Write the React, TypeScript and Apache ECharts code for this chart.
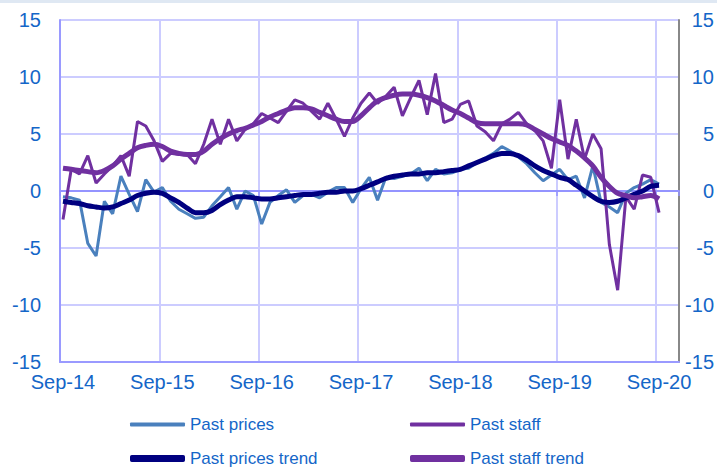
import React, { useEffect, useRef } from "react";
import * as echarts from "echarts";

// Monthly observations, Sep-14 (index 0) to Sep-20 (index 72)
const pastPrices = [
  -0.5, -0.6, -0.8, -4.6, -5.7, -0.9, -2.0, 1.3, -0.3, -1.8, 1.0, -0.1,
  0.3, -0.9, -1.6, -2.0, -2.4, -2.3, -1.3, -0.5, 0.3, -1.6, 0.0, -0.4,
  -2.9, -1.0, -0.4, 0.1, -1.0, -0.4, -0.3, -0.6, -0.1, 0.3, 0.3, -1.0,
  0.2, 1.2, -0.8, 1.2, 1.1, 1.3, 1.5, 2.0, 0.9, 1.9, 1.5, 1.6,
  1.9, 2.0, 2.5, 2.9, 3.3, 3.9, 3.5, 3.0, 2.4, 1.6, 0.9, 1.4,
  1.9, 1.0, 1.3, -0.6, 2.2, -1.0, -1.4, -1.9, -0.2, 0.3, 0.6, 1.0,
  0.6,
];
const pastStaff = [
  -2.5, 1.9, 1.5, 3.1, 0.7, 1.5, 2.2, 3.1, 1.3, 6.1, 5.7, 4.4,
  2.6, 3.3, 3.2, 3.2, 2.4, 4.1, 6.3, 4.1, 6.3, 4.4, 5.4, 5.9,
  6.8, 6.4, 6.0, 7.0, 8.0, 7.7, 7.0, 6.3, 7.7, 6.3, 4.8, 6.4,
  7.7, 8.6, 7.7, 8.3, 9.1, 6.6, 8.2, 9.7, 6.7, 10.3, 6.0, 6.3,
  7.6, 7.9, 5.7, 5.2, 4.4, 5.9, 6.3, 6.9, 5.9, 5.3, 4.4, 2.0,
  8.0, 2.8, 6.3, 2.8, 5.0, 3.7, -4.7, -8.7, -0.5, -1.6, 1.4, 1.2,
  -1.9,
];
const pastPricesTrend = [
  -0.9, -1.0, -1.1, -1.3, -1.4, -1.5, -1.4, -1.1, -0.8, -0.4, -0.2, -0.1,
  -0.2, -0.6, -1.0, -1.5, -1.9, -1.9, -1.7, -1.2, -0.8, -0.5, -0.5, -0.6,
  -0.7, -0.7, -0.6, -0.5, -0.4, -0.3, -0.3, -0.2, -0.1, -0.1, 0.0, 0.0,
  0.2, 0.5, 0.8, 1.1, 1.3, 1.4, 1.5, 1.5, 1.6, 1.6, 1.7, 1.8,
  1.9, 2.2, 2.5, 2.8, 3.1, 3.3, 3.3, 3.1, 2.7, 2.2, 1.8, 1.5,
  1.2, 1.0, 0.5, 0.0, -0.5, -0.9, -1.0, -0.9, -0.6, -0.3, 0.0, 0.4,
  0.5,
];
const pastStaffTrend = [
  2.0, 1.9, 1.8, 1.7, 1.6, 1.8, 2.2, 2.8, 3.3, 3.8, 4.0, 4.1,
  3.9, 3.5, 3.3, 3.2, 3.2, 3.5, 4.1, 4.6, 5.0, 5.3, 5.5, 5.8,
  6.1, 6.5, 6.8, 7.1, 7.3, 7.3, 7.2, 6.9, 6.6, 6.3, 6.1, 6.1,
  6.6, 7.3, 7.9, 8.2, 8.4, 8.5, 8.5, 8.4, 8.2, 7.9, 7.5, 7.1,
  6.8, 6.4, 6.0, 5.9, 5.9, 5.9, 5.9, 5.9, 5.8, 5.4, 5.0, 4.6,
  4.3, 4.0, 3.5, 2.9, 2.2, 1.2, 0.4, -0.2, -0.4, -0.6, -0.5, -0.4,
  -0.7,
];
const xTickLabels = ["Sep-14", "Sep-15", "Sep-16", "Sep-17", "Sep-18", "Sep-19", "Sep-20"];
const seriesNames = ["Past prices", "Past staff", "Past prices trend", "Past staff trend"];

const X_SHIFT = 0.36; // points sit slightly right of the month gridline
const X_MAX = 74.77;
const FONT = "'Liberation Sans', Arial, sans-serif";
const TEXT_BLUE = "#1466c8";

const toPairs = (arr: number[]) => arr.map((v, i) => [i + X_SHIFT, v]);

export default function App() {
  const ref = useRef<HTMLDivElement>(null);
  useEffect(() => {
    if (!ref.current) return;
    const chart = echarts.init(ref.current, null, { renderer: "svg" });
    const legendBase = {
      itemWidth: 55,
      textStyle: { color: TEXT_BLUE, fontSize: 17, fontFamily: FONT },
      itemStyle: { borderWidth: 0 },
      icon: "roundRect",
      selectedMode: false,
    };
    chart.setOption({
      animation: false,
      backgroundColor: "#ffffff",
      textStyle: { fontFamily: FONT },
      graphic: [
        { type: "rect", shape: { x: 0, y: 0, width: 717, height: 3 }, style: { fill: "#dfe8f3" }, silent: true },
      ],
      grid: { left: 60, top: 20, width: 622, height: 342, containLabel: false },
      legend: [
        { ...legendBase, data: [seriesNames[0]], left: 125, top: 411, itemHeight: 4 },
        { ...legendBase, data: [seriesNames[1]], left: 405, top: 411, itemHeight: 4 },
        { ...legendBase, data: [seriesNames[2]], left: 125, top: 445, itemHeight: 7 },
        { ...legendBase, data: [seriesNames[3]], left: 405, top: 445, itemHeight: 7 },
      ],
      xAxis: [
        {
          type: "value",
          min: 0,
          max: X_MAX,
          interval: 12,
          position: "bottom",
          axisLine: { show: true, onZero: false, lineStyle: { color: "#9a9aff", width: 2 } },
          axisTick: { show: false },
          splitLine: { show: true, lineStyle: { color: "#ccccff", width: 2 } },
          axisLabel: {
            color: TEXT_BLUE,
            fontSize: 20,
            fontFamily: FONT,
            margin: 10,
            padding: [0, 0, 0, 6],
            showMaxLabel: true,
            formatter: (v: number) => {
              const k = Math.round(v / 12);
              return Math.abs(v - k * 12) < 1e-6 && xTickLabels[k] ? xTickLabels[k] : "";
            },
          },
        },
        {
          type: "value",
          min: 0,
          max: X_MAX,
          interval: 12,
          position: "bottom",
          axisLine: { show: true, onZero: true, lineStyle: { color: "#9494ff", width: 2 } },
          axisTick: { show: true, length: 5, lineStyle: { color: "#9494ff", width: 1.5 } },
          splitLine: { show: false },
          axisLabel: { show: false },
        },
      ],
      yAxis: [
        {
          type: "value",
          min: -15,
          max: 15,
          interval: 5,
          position: "left",
          axisLine: { show: true, onZero: false, lineStyle: { color: "#9a9aff", width: 2 } },
          axisTick: { show: false },
          splitLine: { show: true, lineStyle: { color: "#ccccff", width: 2 } },
          axisLabel: { color: TEXT_BLUE, fontSize: 20, fontFamily: FONT, margin: 19 },
        },
        {
          type: "value",
          min: -15,
          max: 15,
          interval: 5,
          position: "right",
          axisLine: { show: true, onZero: false, lineStyle: { color: "#888888", width: 2 } },
          axisTick: { show: false },
          splitLine: { show: false },
          axisLabel: { color: TEXT_BLUE, fontSize: 20, fontFamily: FONT, margin: 35, align: "right" },
        },
      ],
      series: [
        {
          name: seriesNames[0],
          type: "line",
          data: toPairs(pastPrices),
          showSymbol: false,
          color: "#4a80bd",
          lineStyle: { width: 3, color: "#4a80bd" },
          z: 2,
        },
        {
          name: seriesNames[1],
          type: "line",
          data: toPairs(pastStaff),
          showSymbol: false,
          color: "#7030a0",
          lineStyle: { width: 3, color: "#7030a0" },
          z: 3,
        },
        {
          name: seriesNames[2],
          type: "line",
          data: toPairs(pastPricesTrend),
          showSymbol: false,
          smooth: 0.3,
          color: "#000080",
          lineStyle: { width: 5, color: "#000080" },
          z: 4,
        },
        {
          name: seriesNames[3],
          type: "line",
          data: toPairs(pastStaffTrend),
          showSymbol: false,
          smooth: 0.3,
          color: "#7030a0",
          lineStyle: { width: 5, color: "#7030a0" },
          z: 5,
        },
      ],
    });
    return () => chart.dispose();
  }, []);
  return (
    <div
      ref={ref}
      style={{ position: "fixed", left: 0, top: 0, width: 717, height: 468, background: "#fff" }}
    />
  );
}
